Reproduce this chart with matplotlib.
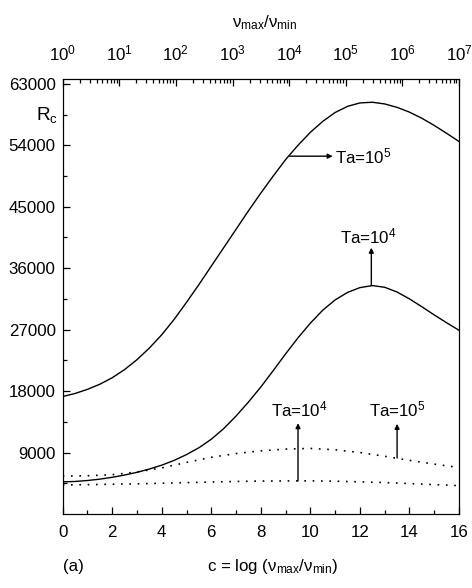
import numpy as np
import matplotlib
matplotlib.use("Agg")
import matplotlib.pyplot as plt

plt.rcParams['font.family'] = ['Liberation Sans', 'DejaVu Sans']
plt.rcParams['mathtext.fontset'] = 'custom'
plt.rcParams['mathtext.rm'] = 'Liberation Sans'
plt.rcParams['mathtext.it'] = 'Liberation Sans:italic'
plt.rcParams['mathtext.default'] = 'regular'

# critical Rayleigh number vs c = log(vmax/vmin)
c = [0, 0.5, 1, 1.5, 2, 2.5, 3, 3.5, 4, 4.5, 5, 5.5, 6, 6.5, 7, 7.5, 8,
     8.5, 9, 9.5, 10, 10.5, 11, 11.5, 12, 12.5, 13, 13.5, 14, 14.5, 15, 15.5, 16]
rc_ta1e5 = [17200, 17650, 18250, 19000, 19950, 21150, 22600, 24300, 26250,
            28500, 31000, 33600, 36300, 39000, 41700, 44400, 47000, 49500,
            51900, 54000, 55900, 57500, 58800, 59700, 60200, 60300, 60050,
            59550, 58850, 57950, 56900, 55750, 54550]
rc_ta1e4 = [4700, 4760, 4900, 5100, 5370, 5700, 6100, 6580, 7150, 7850, 8700,
            9700, 10950, 12500, 14350, 16400, 18600, 21000, 23450, 25800,
            27950, 29850, 31350, 32450, 33150, 33450, 33200, 32500, 31500,
            30350, 29150, 28000, 26900]

# dotted curves (second model)
c_dot = [0, 1, 2, 3, 4, 5, 6, 7, 8, 9, 10, 11, 12, 13, 14, 15, 16]
rc_dot_ta1e5 = [5550, 5600, 5750, 6150, 6750, 7550, 8300, 8850, 9250, 9500,
                9600, 9400, 9000, 8450, 7850, 7300, 6800]
rc_dot_ta1e4 = [4250, 4300, 4350, 4420, 4500, 4590, 4680, 4760, 4820, 4840,
                4850, 4800, 4700, 4600, 4450, 4300, 4150]

yticks = [9000, 18000, 27000, 36000, 45000, 54000, 63000]
decades = list(range(8))

fs = 12.2
fig = plt.figure(figsize=(4.72, 5.88), dpi=100)
ax = fig.add_axes([0.1328, 0.1259, 0.8397, 0.7397])

ax.plot(c, rc_ta1e5, color='black', lw=1.0)
ax.plot(c, rc_ta1e4, color='black', lw=1.0)
ax.plot(c_dot, rc_dot_ta1e5, color='black', lw=1.2, linestyle=(0, (1, 4)))
ax.plot(c_dot, rc_dot_ta1e4, color='black', lw=1.2, linestyle=(0, (1, 4)))

ax.set_xlim(0, 16)
ax.set_ylim(0, 63700)
ax.set_xticks(np.arange(0, 17, 2))
ax.set_xticks(np.arange(1, 16, 2), minor=True)
ax.set_yticks(yticks)
ax.set_yticks(np.arange(4500, 63000, 9000), minor=True)
ax.tick_params(which='both', direction='in', labelsize=fs, width=0.9)
ax.tick_params(which='major', length=5)
ax.tick_params(which='minor', length=3)
ax.tick_params(axis='x', pad=8)
ax.tick_params(axis='y', pad=5)
ax.tick_params(right=False, top=False)

# top axis: vmax/vmin on a log scale
ax2 = ax.twiny()
ax2.set_xlim(0, 16)
ax2.set_xticks([k * 16 / 7 for k in decades])
ax2.set_xticklabels(['$10^{%d}$' % k for k in decades])
ax2.set_xticks([(k + np.log10(m)) * 16 / 7 for k in range(7) for m in range(2, 10)],
               minor=True)
ax2.tick_params(which='both', direction='in', labelsize=fs, width=0.9, pad=11)
ax2.tick_params(which='major', length=5)
ax2.tick_params(which='minor', length=3)

# labels for curves
arrow = dict(arrowstyle='-|>', color='black', lw=1.0, mutation_scale=7,
             shrinkA=0, shrinkB=0)
ax.annotate('', xy=(10.9, 52400), xytext=(9.17, 52400), arrowprops=arrow)
ax.text(11.0, 52400, 'Ta=10$^5$', fontsize=fs, va='center', ha='left')
ax.annotate('', xy=(12.46, 39000), xytext=(12.46, 33450), arrowprops=arrow)
ax.text(12.36, 40700, 'Ta=10$^4$', fontsize=fs, va='center', ha='center')
ax.annotate('', xy=(9.5, 13300), xytext=(9.5, 4840), arrowprops=arrow)
ax.text(9.57, 15300, 'Ta=10$^4$', fontsize=fs, va='center', ha='center')
ax.annotate('', xy=(13.5, 13200), xytext=(13.5, 8200), arrowprops=arrow)
ax.text(13.5, 15300, 'Ta=10$^5$', fontsize=fs, va='center', ha='center')

ax.text(-0.012, 0.917, 'R$_c$', transform=ax.transAxes, fontsize=fs + 1.5,
        ha='right', va='center')
fig.text(0.578, 0.036, 'c = log (ν$_{max}$/ν$_{min}$)', fontsize=fs,
         ha='center', va='center')
fig.text(0.1335, 0.036, '(a)', fontsize=fs, ha='left', va='center')
fig.text(0.561, 0.961, 'ν$_{max}$/ν$_{min}$', fontsize=fs, ha='center', va='center')

fig.savefig('out.png', dpi=100)
